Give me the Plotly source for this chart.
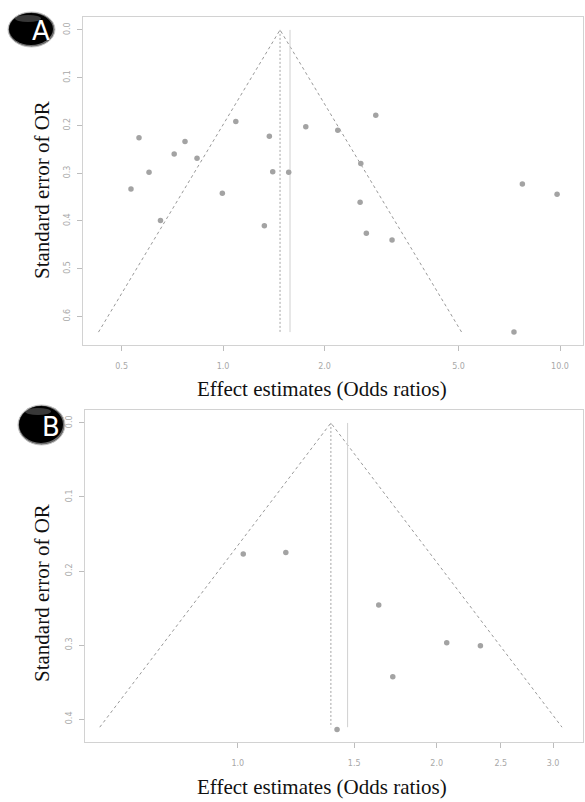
import numpy as np
import plotly.graph_objects as go

# Panel A: individual studies (odds ratio, standard error)
a_or = [0.563, 0.771, 0.716, 0.837, 0.603, 0.533, 0.652, 0.995, 1.091, 1.372,
        1.404, 1.566, 1.326, 1.760, 2.190, 2.839, 2.563, 2.551, 2.662, 3.173,
        7.73, 9.80, 7.30]
a_se = [0.226, 0.234, 0.260, 0.269, 0.298, 0.333, 0.399, 0.342, 0.192, 0.223,
        0.297, 0.298, 0.410, 0.203, 0.210, 0.179, 0.280, 0.361, 0.426, 0.440,
        0.323, 0.344, 0.633]
a_pooled = 1.476      # apex of the pseudo-confidence funnel
a_random = 1.58       # second summary estimate (solid line)
a_se_max = 0.633

# Panel B
b_or = [1.019, 1.182, 1.634, 2.071, 2.329, 1.716, 1.413]
b_se = [0.177, 0.175, 0.246, 0.297, 0.301, 0.343, 0.414]
b_pooled = 1.383
b_random = 1.466
b_se_max = 0.411

a_xticks = [0.5, 1.0, 2.0, 5.0, 10.0]
a_xtext = ["0.5", "1.0", "2.0", "5.0", "10.0"]
a_yticks = [0.0, 0.1, 0.2, 0.3, 0.4, 0.5, 0.6]
b_xticks = [1.0, 1.5, 2.0, 2.5, 3.0]
b_xtext = ["1.0", "1.5", "2.0", "2.5", "3.0"]
b_yticks = [0.0, 0.1, 0.2, 0.3, 0.4]

W, H = 585, 802
GREY = "#a3a3a3"
FRAME = "#d2d2d2"


def py(v):
    return 1 - v / H


fig = go.Figure()


def add_panel(xa, ya, ors, ses, pooled, rand, se_max):
    lo = np.exp(np.log(pooled) - 1.96 * se_max)
    hi = np.exp(np.log(pooled) + 1.96 * se_max)
    # funnel (dashed)
    fig.add_trace(go.Scatter(x=[lo, pooled, hi], y=[se_max, 0, se_max], mode="lines",
                             line=dict(color="#999999", width=1, dash="3px,3px"),
                             xaxis=xa, yaxis=ya, hoverinfo="skip"))
    # pooled estimate (dotted)
    fig.add_trace(go.Scatter(x=[pooled, pooled], y=[0, se_max], mode="lines",
                             line=dict(color="#a5a5a5", width=1, dash="2px,2px"),
                             xaxis=xa, yaxis=ya, hoverinfo="skip"))
    # second summary estimate (solid)
    fig.add_trace(go.Scatter(x=[rand, rand], y=[0, se_max], mode="lines",
                             line=dict(color="#d0d0d0", width=1),
                             xaxis=xa, yaxis=ya, hoverinfo="skip"))
    # studies
    fig.add_trace(go.Scatter(x=ors, y=ses, mode="markers",
                             marker=dict(color=GREY, size=5.5),
                             xaxis=xa, yaxis=ya))


add_panel("x", "y", a_or, a_se, a_pooled, a_random, a_se_max)
add_panel("x2", "y2", b_or, b_se, b_pooled, b_random, b_se_max)

tickfont = dict(family="DejaVu Sans", size=8, color="#a8a8a8")
axis_common = dict(showline=True, mirror=True, linecolor=FRAME, linewidth=1,
                   showgrid=False, zeroline=False, ticks="outside", ticklen=5,
                   tickcolor="#bdbdbd", tickfont=tickfont)

fig.update_layout(
    width=W, height=H, margin=dict(l=0, r=0, t=0, b=0),
    paper_bgcolor="white", plot_bgcolor="white", showlegend=False,
    xaxis=dict(type="log", domain=[83 / W, 583 / W], anchor="y",
               range=[np.log10(0.384), np.log10(11.7)],
               tickvals=a_xticks, ticktext=a_xtext, ticklabelstandoff=8, **axis_common),
    yaxis=dict(domain=[py(345), py(17)], anchor="x",
               range=[0.660, -0.027], tickvals=a_yticks,
               ticktext=[f"{v:.1f}" for v in a_yticks], tickangle=-90,
               ticklabelstandoff=4, **axis_common),
    xaxis2=dict(type="log", domain=[85 / W, 583 / W], anchor="y2",
                range=[np.log10(0.587), np.log10(3.33)],
                tickvals=b_xticks, ticktext=b_xtext, ticklabelstandoff=8, **axis_common),
    yaxis2=dict(domain=[py(742), py(410)], anchor="x2",
                range=[0.431, -0.0175], tickvals=b_yticks,
                ticktext=[f"{v:.1f}" for v in b_yticks], tickangle=-90,
                ticklabelstandoff=4, **axis_common),
)

title_font = dict(family="Liberation Serif", size=21, color="#111111")
for (cx, cy, txt, ang) in [
    (42, 190, "Standard error of OR", -90),
    (322, 389, "Effect estimates (Odds ratios)", 0),
    (42, 593, "Standard error of OR", -90),
    (322, 787, "Effect estimates (Odds ratios)", 0),
]:
    fig.add_annotation(x=cx / W, y=py(cy), xref="paper", yref="paper", text=txt,
                       showarrow=False, textangle=ang, font=title_font,
                       xanchor="center", yanchor="middle")

# glossy panel badges
for (x0, y0, x1, y1, letter) in [(8, 12, 55, 47, "A"), (18, 405, 65, 445, "B")]:
    fig.add_shape(type="circle", xref="paper", yref="paper",
                  x0=x0 / W, x1=x1 / W, y0=py(y1), y1=py(y0),
                  fillcolor="#6a6a6a", line=dict(color="#c8c8c8", width=1))
    fig.add_shape(type="circle", xref="paper", yref="paper",
                  x0=(x0 + 1) / W, x1=(x1 - 2) / W, y0=py(y1 - 2), y1=py(y0 + 1),
                  fillcolor="#000000", line=dict(width=0))
    fig.add_shape(type="circle", xref="paper", yref="paper",
                  x0=(x0 + 7) / W, x1=(x1 - 14) / W, y0=py(y0 + 10), y1=py(y0 + 3),
                  fillcolor="rgba(255,255,255,0.22)", line=dict(width=0))
    fig.add_annotation(x=(x0 + (x1 - x0) * 0.7) / W, y=py((y0 + y1) / 2 + 2),
                       xref="paper", yref="paper", text=letter, showarrow=False,
                       font=dict(family="DejaVu Sans", size=26, color="white"),
                       xanchor="center", yanchor="middle")

fig.write_html("out.html")
